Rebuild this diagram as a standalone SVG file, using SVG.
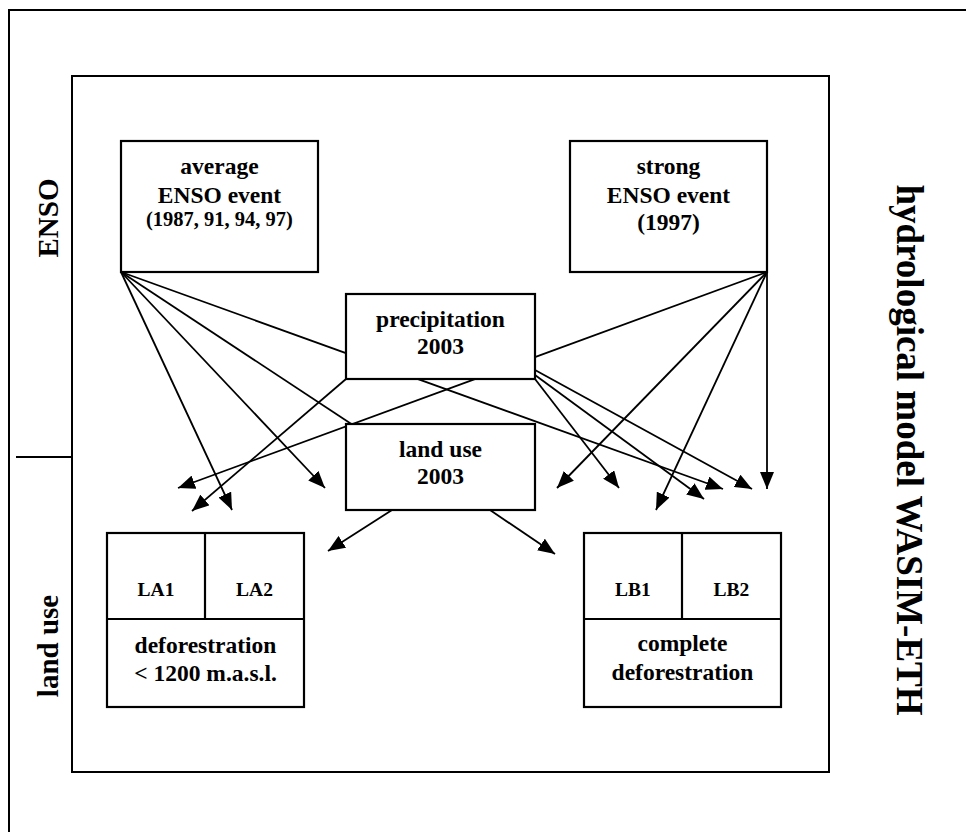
<svg xmlns="http://www.w3.org/2000/svg" width="966" height="832" viewBox="0 0 966 832">
<defs>
<marker id="ah" markerUnits="userSpaceOnUse" markerWidth="17" markerHeight="14" refX="17" refY="7" orient="auto">
<path d="M0,0 L17,7 L0,14 z" fill="#000"/>
</marker>
<style>
.frame{fill:none;stroke:#000;stroke-width:2}
.box{fill:#fff;stroke:#000;stroke-width:2.2}
.c line{stroke:#000;stroke-width:1.8;marker-end:url(#ah)}
text{font-family:"Liberation Serif","Times New Roman",serif;font-weight:bold;fill:#000;text-anchor:middle}
.t{font-size:23.5px}
.s{font-size:20.5px}
.l{font-size:19.5px}
.v{font-size:29px}
.h{font-size:37px}
</style>
</defs>
<rect width="966" height="832" fill="#fff"/>
<rect class="frame" x="9" y="10" width="990" height="860"/>
<rect class="frame" x="72" y="76" width="757" height="696"/>
<line x1="16" y1="457" x2="72" y2="457" stroke="#000" stroke-width="2"/>
<text class="v" transform="translate(58,218) rotate(-90)">ENSO</text>
<text class="v" transform="translate(58,646) rotate(-90)">land use</text>
<text class="h" transform="translate(897,450) rotate(90)">hydrological model WASIM-ETH</text>
<g id="connectors" class="c">
<line x1="121" y1="272" x2="232" y2="510"/>
<line x1="121" y1="272" x2="325" y2="488"/>
<line x1="121" y1="272" x2="723" y2="489"/>
<line x1="121" y1="272" x2="362" y2="431" style="marker-end:none"/>
<line x1="767" y1="272" x2="178" y2="488"/>
<line x1="767" y1="272" x2="557" y2="488"/>
<line x1="767" y1="272" x2="656" y2="510"/>
<line x1="767" y1="272" x2="767" y2="489"/>
<line x1="346" y1="379" x2="192" y2="511"/>
<line x1="535" y1="379" x2="619" y2="488"/>
<line x1="535" y1="375" x2="704" y2="499"/>
<line x1="535" y1="370" x2="752" y2="489"/>
<line x1="392" y1="510" x2="328" y2="551"/>
<line x1="490" y1="510" x2="555" y2="554"/>
</g>
<g id="avg">
<rect class="box" x="121" y="141" width="197" height="131"/>
<text class="t" x="219.5" y="174">average</text>
<text class="t" x="219.5" y="203">ENSO event</text>
<text class="s" x="219.5" y="226">(1987, 91, 94, 97)</text>
</g>
<g id="strong">
<rect class="box" x="570" y="141" width="197" height="131"/>
<text class="t" x="668.5" y="174">strong</text>
<text class="t" x="668.5" y="203">ENSO event</text>
<text class="t" x="668.5" y="230">(1997)</text>
</g>
<g id="precip">
<rect class="box" x="346" y="294" width="189" height="85"/>
<text class="t" x="440.5" y="327">precipitation</text>
<text class="t" x="440.5" y="354">2003</text>
</g>
<g id="landuse">
<rect class="box" x="346" y="424" width="189" height="86"/>
<text class="t" x="440.5" y="457">land use</text>
<text class="t" x="440.5" y="484">2003</text>
</g>
<g id="LA">
<rect class="box" x="107" y="533" width="197" height="174"/>
<line x1="205" y1="533" x2="205" y2="619" stroke="#000" stroke-width="2.2"/>
<line x1="107" y1="619" x2="304" y2="619" stroke="#000" stroke-width="2.2"/>
<text class="l" x="156" y="596">LA1</text>
<text class="l" x="254.5" y="596">LA2</text>
<text class="t" x="205.5" y="653">deforestration</text>
<text class="t" x="205.5" y="681">&lt; 1200 m.a.s.l.</text>
</g>
<g id="LB">
<rect class="box" x="584" y="533" width="197" height="174"/>
<line x1="682" y1="533" x2="682" y2="619" stroke="#000" stroke-width="2.2"/>
<line x1="584" y1="619" x2="781" y2="619" stroke="#000" stroke-width="2.2"/>
<text class="l" x="633" y="596">LB1</text>
<text class="l" x="731.5" y="596">LB2</text>
<text class="t" x="682.5" y="651">complete</text>
<text class="t" x="682.5" y="680">deforestration</text>
</g>
</svg>
